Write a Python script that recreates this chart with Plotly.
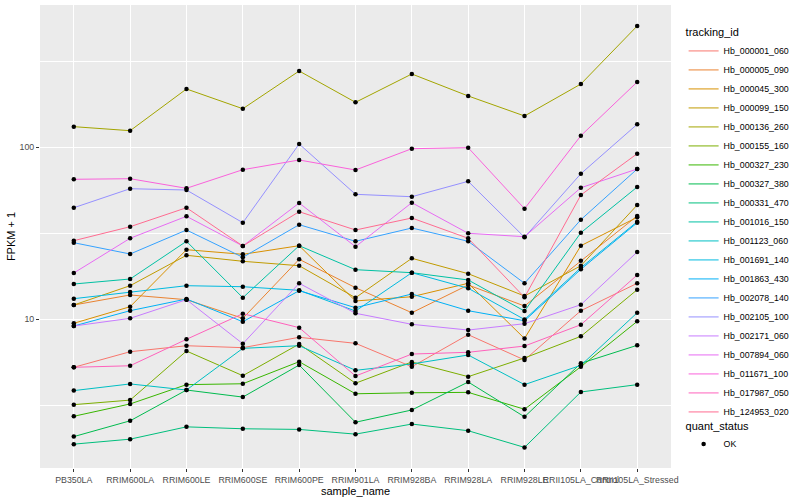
import plotly.graph_objects as go

samples = ["PB350LA", "RRIM600LA", "RRIM600LE", "RRIM600SE", "RRIM600PE", "RRIM901LA",
           "RRIM928BA", "RRIM928LA", "RRIM928LE", "RRII105LA_Control", "RRII105LA_Stressed"]

# FPKM + 1 values per gene
Hb_000001_060 = [5.26, 6.48, 7.02, 6.84, 7.86, 7.25, 5.30, 8.14, 5.80, 11.22, 16.19]
Hb_000005_090 = [12.11, 13.85, 13.00, 10.13, 22.33, 15.27, 10.92, 15.83, 11.95, 21.91, 39.86]
Hb_000045_300 = [9.48, 11.84, 25.39, 23.87, 26.79, 12.78, 13.53, 16.19, 7.73, 26.79, 39.17]
Hb_000099_150 = [12.11, 15.68, 23.56, 21.74, 20.49, 13.35, 22.63, 18.41, 13.66, 20.49, 46.18]
Hb_000136_260 = [131.8, 124.9, 218.3, 167.6, 277.7, 182.6, 266.8, 198.8, 152.1, 233.3, 507.4]
Hb_000155_160 = [3.19, 3.39, 6.54, 4.70, 7.18, 4.25, 5.65, 4.64, 5.96, 7.96, 14.86]
Hb_000327_230 = [2.73, 3.22, 4.17, 4.22, 5.67, 3.69, 3.74, 3.76, 3.00, 5.30, 9.73]
Hb_000327_380 = [2.08, 2.57, 3.88, 3.53, 5.42, 2.52, 2.97, 4.32, 2.71, 5.55, 7.06]
Hb_000331_470 = [1.88, 2.01, 2.37, 2.31, 2.29, 2.15, 2.46, 2.25, 1.80, 3.78, 4.17]
Hb_001016_150 = [16.04, 17.15, 28.41, 13.35, 26.79, 19.43, 18.66, 16.93, 11.17, 31.87, 58.76]
Hb_001123_060 = [3.85, 4.21, 3.88, 6.78, 7.02, 5.05, 5.50, 6.20, 4.17, 5.40, 10.92]
Hb_001691_140 = [13.18, 14.41, 15.68, 15.47, 14.74, 11.17, 18.66, 15.15, 9.97, 19.95, 36.93]
Hb_001863_430 = [9.14, 11.22, 13.12, 9.68, 14.67, 11.68, 14.03, 11.22, 9.81, 19.53, 36.44]
Hb_002078_140 = [27.88, 23.97, 33.05, 22.93, 35.48, 28.41, 33.95, 28.41, 16.19, 37.94, 74.78]
Hb_002105_100 = [44.54, 57.44, 56.45, 36.44, 104.5, 53.29, 51.61, 63.43, 29.98, 70.22, 136.1]
Hb_002171_060 = [9.14, 10.13, 13.00, 7.21, 16.19, 10.84, 9.35, 8.66, 9.43, 12.16, 24.62]
Hb_007894_060 = [18.59, 29.58, 39.70, 26.68, 47.44, 26.43, 47.63, 31.62, 30.22, 58.21, 74.78]
Hb_011671_100 = [65.16, 65.67, 57.75, 74.09, 84.38, 73.79, 98.15, 99.47, 43.95, 116.8, 239.7]
Hb_017987_050 = [5.26, 5.37, 7.65, 10.78, 8.94, 4.68, 6.28, 6.43, 6.99, 9.30, 18.09]
Hb_124953_020 = [28.64, 34.54, 44.54, 26.68, 42.22, 33.05, 38.81, 29.58, 13.42, 52.80, 91.80]

tracking_ids = ["Hb_000001_060", "Hb_000005_090", "Hb_000045_300", "Hb_000099_150", "Hb_000136_260",
                "Hb_000155_160", "Hb_000327_230", "Hb_000327_380", "Hb_000331_470", "Hb_001016_150",
                "Hb_001123_060", "Hb_001691_140", "Hb_001863_430", "Hb_002078_140", "Hb_002105_100",
                "Hb_002171_060", "Hb_007894_060", "Hb_011671_100", "Hb_017987_050", "Hb_124953_020"]
series = [Hb_000001_060, Hb_000005_090, Hb_000045_300, Hb_000099_150, Hb_000136_260,
          Hb_000155_160, Hb_000327_230, Hb_000327_380, Hb_000331_470, Hb_001016_150,
          Hb_001123_060, Hb_001691_140, Hb_001863_430, Hb_002078_140, Hb_002105_100,
          Hb_002171_060, Hb_007894_060, Hb_011671_100, Hb_017987_050, Hb_124953_020]
colors = ["#F8766D", "#EA8331", "#D89000", "#C09B00", "#A3A500", "#7CAE00", "#39B600", "#00BB4E",
          "#00BF7D", "#00C1A3", "#00BFC4", "#00BAE0", "#00B0F6", "#35A2FF", "#9590FF", "#C77CFF",
          "#E76BF3", "#FA62DB", "#FF62BC", "#FF6C91"]
quant_status = "OK"

FONT = "Liberation Sans, Arial, sans-serif"
fig = go.Figure()

for name, vals, col in zip(tracking_ids, series, colors):
    fig.add_trace(go.Scatter(x=samples, y=vals, mode="lines", name=name,
                             line=dict(color=col, width=1), legend="legend"))

all_x = [s for vals in series for s in samples]
all_y = [v for vals in series for v in vals]
fig.add_trace(go.Scatter(x=all_x, y=all_y, mode="markers", name=quant_status,
                         marker=dict(color="black", size=4.5, symbol="circle"),
                         legend="legend2"))

fig.update_layout(
    width=800, height=500,
    margin=dict(l=40, r=116, t=5, b=32),
    paper_bgcolor="white", plot_bgcolor="#EBEBEB",
    font=dict(family=FONT, size=11, color="black"),
    showlegend=True,
    legend=dict(title=dict(text="tracking_id", font=dict(size=11)),
                font=dict(size=8.8), x=1.02, y=0.963, xanchor="left", yanchor="top",
                bgcolor="rgba(0,0,0,0)", itemwidth=30, tracegroupgap=0),
    legend2=dict(title=dict(text="quant_status", font=dict(size=11)),
                 font=dict(size=8.8), x=1.02, y=0.114, xanchor="left", yanchor="top",
                 bgcolor="rgba(0,0,0,0)", itemwidth=30),
    xaxis=dict(type="category", categoryorder="array", categoryarray=samples,
               range=[-0.6, 10.6], tickangle=0, ticks="outside", ticklen=3, tickcolor="#333333",
               tickfont=dict(size=8.8, color="#4D4D4D"), showgrid=True, gridcolor="white", gridwidth=1.1,
               zeroline=False, showline=False,
               title=dict(text="sample_name", font=dict(size=11), standoff=2)),
    yaxis=dict(type="log", range=[0.1355, 2.8273], tickvals=[10, 100], ticktext=["10", "100"],
               ticks="outside", ticklen=3, tickcolor="#333333",
               tickfont=dict(size=8.8, color="#4D4D4D"), showgrid=True, gridcolor="white", gridwidth=1.1,
               minor=dict(tickvals=[3.1623, 31.623, 316.23], showgrid=True, gridcolor="white",
                          gridwidth=0.55, ticks=""),
               zeroline=False, showline=False,
               title=dict(text="FPKM + 1", font=dict(size=11), standoff=1)),
)

fig.write_html("out.html", config={"displayModeBar": False},
               post_script="document.body.style.margin='0';")
